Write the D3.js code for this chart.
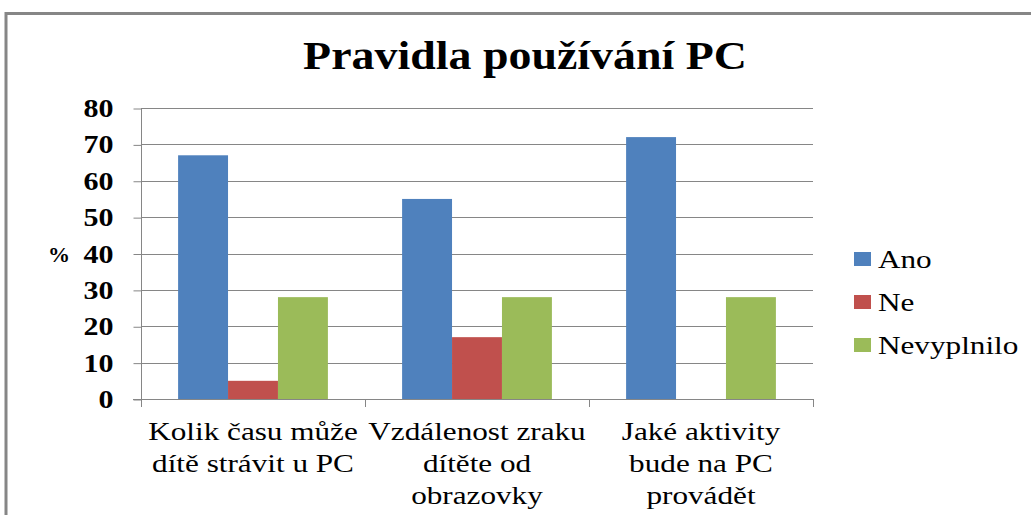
<!DOCTYPE html>
<html>
<head>
<meta charset="utf-8">
<script src="https://cdn.jsdelivr.net/npm/d3@7"></script>
<style>
  body { margin: 0; background: #fff; }
  svg { display: block; }
</style>
</head>
<body>
<svg id="chart" width="1031" height="515"></svg>
<script>
// chart data
var categories = [
  ["Kolik času může", "dítě strávit u PC"],
  ["Vzdálenost zraku", "dítěte od", "obrazovky"],
  ["Jaké aktivity", "bude na PC", "provádět"]
];
var seriesNames = ["Ano", "Ne", "Nevyplnilo"];
var ano = [67, 55, 72];
var ne = [5, 17, 0];
var nevyplnilo = [28, 28, 28];
var yTicks = [0, 10, 20, 30, 40, 50, 60, 70, 80];
var colors = ["#4F81BD", "#C0504D", "#9BBB59"];

var svg = d3.select("#chart");
var plotLeft = 141, plotRight = 813, plotTop = 108, plotBottom = 399;
var serif = "'Liberation Serif', 'Times New Roman', serif";
// the original text is a bit wider than Liberation Serif
var stretch = 1.2;

// outer frame (only top and left edges are visible)
svg.append("path")
  .attr("d", "M6,520 L6,13.5 L1040,13.5")
  .attr("fill", "none")
  .attr("stroke", "#868686")
  .attr("stroke-width", 3);

// title
svg.append("text")
  .attr("transform", "translate(525,69) scale(1.12,1)")
  .attr("text-anchor", "middle")
  .style("font-family", serif)
  .style("font-weight", "bold")
  .style("font-size", "41px")
  .text("Pravidla používání PC");

var yScale = d3.scaleLinear().domain([0, 80]).range([plotBottom, plotTop]);
var catIdx = d3.range(categories.length);
var x0 = d3.scaleBand().domain(catIdx).range([plotLeft, plotRight]);
var x1 = d3.scaleBand().domain(seriesNames).range([0, x0.bandwidth()]).paddingOuter(0.743);

// gridlines
svg.append("g")
  .selectAll("line")
  .data(yTicks.slice(1))
  .enter().append("line")
  .attr("x1", plotLeft).attr("x2", plotRight)
  .attr("y1", d => Math.round(yScale(d)) + 0.5)
  .attr("y2", d => Math.round(yScale(d)) + 0.5)
  .attr("stroke", "#868686")
  .attr("stroke-width", 1);

// bars
var table = catIdx.map(i => ({ i: i, vals: [ano[i], ne[i], nevyplnilo[i]] }));
svg.append("g")
  .selectAll("g")
  .data(table)
  .enter().append("g")
  .attr("transform", d => `translate(${x0(d.i)},0)`)
  .selectAll("rect")
  .data(d => d.vals.map((v, k) => ({ name: seriesNames[k], v: v, k: k })))
  .enter().append("rect")
  .attr("x", d => x1(d.name))
  .attr("width", x1.bandwidth())
  .attr("y", d => yScale(d.v))
  .attr("height", d => plotBottom - yScale(d.v))
  .attr("fill", d => colors[d.k]);

// y axis
var yAxis = d3.axisLeft(yScale).tickValues(yTicks).tickSize(8).tickPadding(20);
svg.append("g")
  .attr("transform", `translate(${plotLeft + 0.5},0.5)`)
  .call(yAxis)
  .call(g => g.select(".domain").attr("stroke", "#868686").attr("d", `M0,${plotBottom}V${plotTop}`))
  .call(g => g.selectAll(".tick line").attr("stroke", "#868686"))
  .call(g => g.selectAll(".tick text")
    .attr("x", -28 / stretch)
    .attr("transform", `scale(${stretch},1)`)
    .style("font-family", serif)
    .style("font-weight", "bold")
    .style("font-size", "25px")
    .attr("fill", "#000"));

// x axis
var xTickPos = catIdx.map(i => x0(i)).concat([plotRight]);
svg.append("g")
  .selectAll("line")
  .data(xTickPos)
  .enter().append("line")
  .attr("x1", d => Math.round(d) + 0.5).attr("x2", d => Math.round(d) + 0.5)
  .attr("y1", plotBottom).attr("y2", plotBottom + 8)
  .attr("stroke", "#868686");
svg.append("line")
  .attr("x1", plotLeft - 8).attr("x2", plotRight + 1)
  .attr("y1", plotBottom + 0.5).attr("y2", plotBottom + 0.5)
  .attr("stroke", "#868686");

// category labels
svg.append("g")
  .selectAll("text")
  .data(table)
  .enter().append("text")
  .attr("transform", d => `translate(${x0(d.i) + x0.bandwidth() / 2},0) scale(${stretch},1)`)
  .attr("text-anchor", "middle")
  .style("font-family", serif)
  .style("font-size", "26px")
  .attr("fill", "#000")
  .each(function(d) {
    d3.select(this).selectAll("tspan")
      .data(categories[d.i])
      .enter().append("tspan")
      .attr("x", 0)
      .attr("y", (t, j) => 440 + j * 32)
      .text(t => t);
  });

// y axis title
svg.append("text")
  .attr("transform", "translate(59,262) scale(1.1,1)")
  .attr("text-anchor", "middle")
  .style("font-family", serif)
  .style("font-weight", "bold")
  .style("font-size", "20px")
  .text("%");

// legend
var legend = svg.append("g")
  .selectAll("g")
  .data(seriesNames)
  .enter().append("g")
  .attr("transform", (d, i) => `translate(854,${259 + i * 43})`);
legend.append("rect")
  .attr("x", 0).attr("y", -7)
  .attr("width", 17).attr("height", 14)
  .attr("fill", (d, i) => colors[i]);
legend.append("text")
  .attr("transform", `translate(24,9) scale(${stretch},1)`)
  .style("font-family", serif)
  .style("font-size", "26px")
  .attr("fill", "#000")
  .text(d => d);
</script>
</body>
</html>
